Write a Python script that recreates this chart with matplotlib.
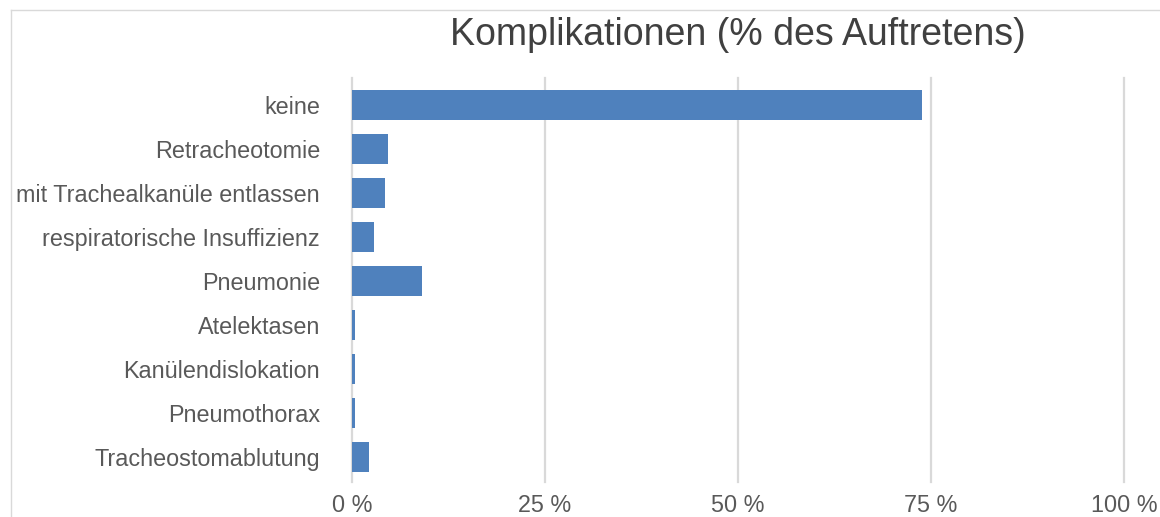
import matplotlib
matplotlib.use("Agg")
import matplotlib.pyplot as plt
from matplotlib.lines import Line2D

categories = ["keine", "Retracheotomie", "mit Trachealkanüle entlassen",
              "respiratorische Insuffizienz", "Pneumonie", "Atelektasen",
              "Kanülendislokation", "Pneumothorax", "Tracheostomablutung"]
values = [73.8, 4.6, 4.3, 2.9, 9.1, 0.4, 0.4, 0.4, 2.2]
xticks = [0, 25, 50, 75, 100]
xticklabels = ["0 %", "25 %", "50 %", "75 %", "100 %"]
title = "Komplikationen (% des Auftretens)"

plt.rcParams['font.family'] = ['Liberation Sans', 'DejaVu Sans']

W, H = 1160, 517
fig = plt.figure(figsize=(W / 100, H / 100), dpi=100)
ax = fig.add_axes([352 / W, 1 - 482 / H, 772 / W, 404 / H])

ypos = list(range(len(categories)))
ax.barh(ypos, values, height=0.68, color="#4F81BD", zorder=3)
ax.set_ylim(8.568, -0.614)
ax.set_xlim(0, 100)
ax.set_yticks(ypos)
ax.set_yticklabels(categories, fontsize=16.8, color="#595959")
ax.set_xticks(xticks)
ax.set_xticklabels(xticklabels, fontsize=16.8, color="#595959")
ax.tick_params(axis='y', length=0, pad=23)
ax.tick_params(axis='x', length=0, pad=9)
ax.xaxis.grid(True, color="#d9d9d9", linewidth=1.6, zorder=0)
for gl in ax.get_xgridlines():
    gl.set_clip_on(False)
ax.yaxis.grid(False)
for s in ax.spines.values():
    s.set_visible(False)

fig.text(738 / W, 1 - 35 / H, title, ha='center', va='center',
         fontsize=27, color="#404040")

# outer chart frame (top and left edges visible)
fig.add_artist(Line2D([10.5 / W, 1.0], [1 - 9.5 / H, 1 - 9.5 / H],
                      color="#d9d9d9", linewidth=1.0))
fig.add_artist(Line2D([10.5 / W, 10.5 / W], [0.0, 1 - 9.5 / H],
                      color="#d9d9d9", linewidth=1.0))

fig.savefig("out.png", dpi=100, facecolor="white")
